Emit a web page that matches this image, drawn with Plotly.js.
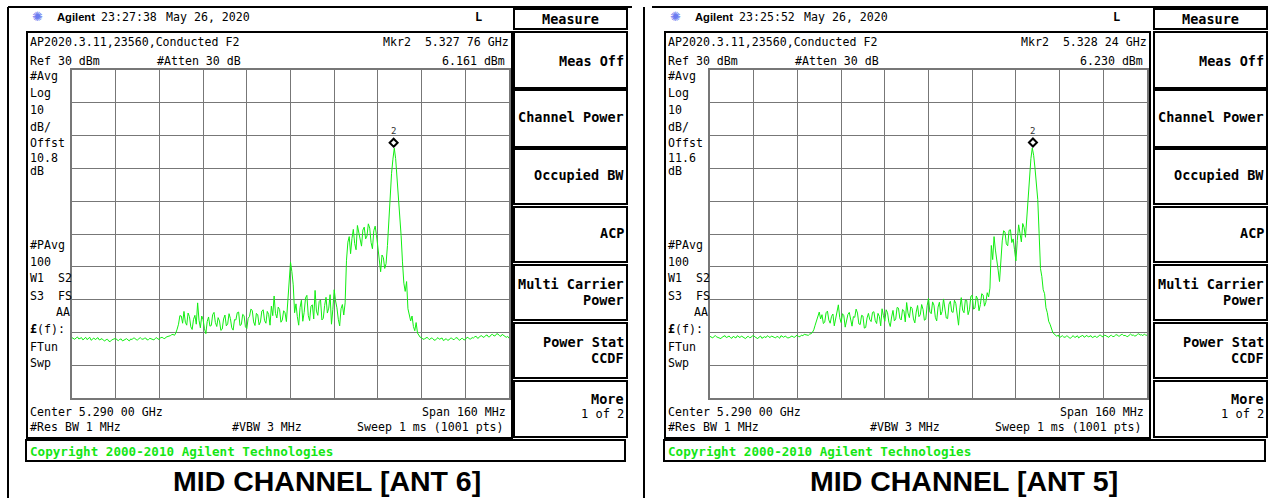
<!DOCTYPE html>
<html><head><meta charset="utf-8">
<script src="https://cdn.plot.ly/plotly-3.0.1.min.js"></script>
<style>html,body{margin:0;padding:0;background:#fff}#chart{width:1271px;height:498px}</style>
</head><body><div id="chart"></div>
<script>
// ---- sweep settings (from the analyzer annotations) ----
const centerGHz = 5.290;
const spanGHz = 0.160;
const refLevelDbm = 30;
const dbPerDiv = 10;
const stepGHz = 0.0005;

// ---- trace levels (dBm), one value per 0.5 MHz from 5.210 to 5.370 GHz ----
const ant6Level = [
  -51.6,-51.9,-52.1,-51.7,-51.4,-52.0,-51.9,-51.6,-52.3,-51.8,-51.5,-52.2,-51.8,-51.5,-52.4,-51.9,-51.7,-52.2,-52.0,-51.6,
  -52.3,-52.0,-51.9,-52.4,-52.6,-52.2,-52.1,-52.7,-52.8,-52.3,-52.2,-51.9,-51.8,-52.3,-52.5,-52.1,-52.0,-52.6,-52.4,-52.1,
  -51.9,-52.3,-52.6,-52.0,-52.2,-51.7,-51.8,-52.2,-52.3,-51.9,-51.6,-52.0,-52.1,-51.8,-51.7,-52.3,-52.2,-51.8,-51.9,-52.2,
  -52.3,-51.8,-51.6,-52.1,-52.0,-51.6,-51.5,-51.8,-51.9,-51.4,-51.3,-51.1,-51.0,-50.7,-50.6,-50.9,-50.2,-49.0,-47.5,-44.9,
  -45.0,-47.2,-43.6,-46.9,-47.8,-44.1,-45.2,-48.3,-49.1,-46.0,-44.8,-47.5,-41.0,-46.3,-48.6,-45.0,-46.1,-48.9,-50.4,-46.7,
  -45.3,-48.1,-47.9,-44.6,-43.9,-47.0,-48.2,-45.5,-46.5,-49.4,-49.0,-45.9,-44.7,-48.0,-47.4,-44.3,-45.8,-48.6,-49.3,-46.1,
  -46.2,-44.0,-43.8,-47.9,-47.6,-44.5,-44.9,-48.3,-48.8,-45.7,-45.1,-42.9,-43.3,-46.8,-47.9,-44.2,-44.6,-47.7,-46.8,-43.5,
  -43.1,-46.4,-47.2,-43.6,-44.5,-47.8,-42.0,-44.9,-38.9,-44.2,-45.6,-42.3,-43.0,-46.9,-46.2,-43.4,-44.0,-46.7,-40.2,-34.0,
  -28.6,-31.5,-35.5,-44.0,-41.3,-45.2,-47.8,-42.4,-40.2,-46.6,-43.9,-39.5,-38.7,-44.8,-46.4,-42.0,-41.6,-45.9,-37.2,-43.5,
  -44.8,-40.6,-40.1,-46.2,-45.7,-41.8,-39.3,-44.1,-42.6,-38.5,-47.5,-43.0,-37.0,-40.4,-42.5,-46.0,-48.0,-42.8,-41.5,-44.7,
  -41.0,-28.0,-22.5,-20.8,-26.0,-21.4,-18.6,-22.9,-24.8,-17.4,-19.5,-22.0,-23.7,-18.8,-17.9,-21.5,-20.6,-16.9,-18.2,-22.6,
  -24.5,-19.0,-17.6,-20.4,-23.8,-28.6,-31.5,-26.4,-27.2,-30.5,-29.0,-23.5,-15.0,-7.5,-1.5,2.8,6.16,3.0,-2.5,-7.0,
  -12.5,-20.5,-28.5,-35.0,-37.5,-34.5,-42.8,-44.5,-46.5,-45.0,-48.2,-49.5,-47.0,-50.2,-50.8,-51.5,-51.6,-52.1,-52.0,-51.7,
  -51.5,-51.9,-52.2,-51.7,-51.8,-52.3,-52.4,-51.9,-51.6,-52.1,-52.0,-51.7,-52.5,-52.1,-51.9,-52.4,-52.3,-51.8,-51.7,-52.2,
  -52.1,-51.7,-51.6,-52.2,-52.4,-51.9,-51.8,-52.3,-52.2,-51.6,-51.5,-52.0,-52.0,-51.6,-51.7,-51.3,-51.2,-51.8,-51.6,-51.1,
  -51.0,-51.5,-51.4,-50.9,-50.8,-51.4,-51.3,-50.7,-50.6,-51.1,-51.0,-50.4,-50.5,-51.0,-51.2,-50.6,-50.9,-51.4,-51.5,-51.2,
  -51.8
];
const ant5Level = [
  -51.2,-51.5,-51.7,-51.2,-51.0,-51.4,-51.5,-51.8,-51.9,-51.4,-51.3,-51.0,-51.6,-51.3,-51.1,-51.6,-51.8,-51.2,-51.4,-51.7,
  -51.0,-51.3,-51.6,-51.1,-51.3,-51.7,-51.9,-51.4,-51.2,-51.6,-51.5,-51.1,-51.0,-51.4,-51.7,-51.9,-51.4,-51.1,-51.8,-51.5,
  -51.3,-51.6,-51.0,-51.3,-51.6,-51.1,-51.2,-51.5,-51.7,-51.2,-51.4,-51.8,-51.0,-51.3,-51.5,-51.1,-51.3,-51.7,-51.6,-51.2,
  -51.1,-51.4,-51.5,-51.0,-50.9,-51.3,-51.3,-50.8,-51.0,-50.6,-50.7,-51.0,-50.9,-50.5,-50.4,-50.0,-49.2,-47.8,-46.5,-44.6,
  -43.8,-45.9,-44.6,-47.3,-46.9,-44.0,-43.5,-46.2,-47.2,-45.1,-44.4,-48.0,-45.8,-43.2,-41.6,-45.5,-47.0,-44.3,-44.9,-48.4,
  -46.3,-44.5,-43.9,-46.8,-48.1,-45.2,-45.4,-42.9,-44.1,-47.4,-47.6,-44.8,-45.0,-48.7,-48.5,-45.6,-44.2,-46.1,-46.7,-43.9,
  -43.7,-46.4,-47.3,-44.2,-45.1,-48.0,-42.8,-44.9,-46.6,-43.1,-44.0,-46.9,-48.2,-45.3,-43.3,-46.5,-45.9,-42.4,-42.6,-45.7,
  -46.2,-43.0,-43.4,-46.8,-40.9,-44.1,-45.5,-42.2,-42.7,-45.9,-47.1,-43.8,-41.8,-45.2,-44.6,-41.5,-43.0,-46.3,-46.0,-41.9,
  -39.6,-43.8,-44.3,-40.7,-41.7,-45.4,-46.5,-42.3,-40.8,-44.7,-43.6,-39.8,-42.1,-45.6,-45.8,-41.4,-40.5,-43.7,-43.9,-40.2,
  -41.2,-45.0,-47.8,-42.5,-39.4,-43.2,-44.0,-40.1,-40.3,-44.6,-43.1,-39.0,-38.7,-42.9,-42.6,-38.9,-39.9,-43.4,-41.5,-38.2,
  -38.6,-42.0,-40.8,-37.9,-39.2,-36.5,-23.5,-27.8,-20.8,-24.9,-27.4,-31.0,-34.5,-26.0,-22.1,-19.0,-19.4,-23.0,-23.6,-18.9,
  -18.7,-22.6,-21.5,-24.8,-28.2,-22.0,-17.2,-19.8,-22.4,-16.8,-18.0,-21.0,-15.5,-8.0,-1.5,3.0,6.23,4.0,0.0,-4.0,
  -9.5,-19.8,-30.5,-33.0,-37.0,-38.2,-42.5,-44.0,-46.6,-47.5,-48.8,-50.0,-50.5,-51.0,-51.2,-50.8,-51.6,-51.3,-51.0,-51.4,
  -51.5,-51.1,-51.2,-51.6,-51.8,-51.3,-51.0,-51.5,-51.4,-51.0,-51.7,-51.3,-51.2,-50.9,-51.5,-51.2,-50.9,-51.4,-51.3,-51.0,
  -51.6,-51.2,-51.1,-51.5,-51.4,-50.9,-50.8,-51.3,-51.3,-50.8,-51.0,-51.4,-51.5,-51.0,-50.9,-51.3,-51.2,-50.8,-50.7,-51.1,
  -51.1,-50.7,-50.6,-51.0,-50.9,-51.2,-51.3,-50.8,-50.5,-50.9,-50.8,-51.1,-51.0,-50.6,-50.4,-50.8,-50.7,-51.0,-50.5,-50.8,
  -50.9
];

// ---- markers ----
const markerFreqGHz = [5.32776, 5.32824];
const markerLevelDbm = [6.161, 6.230];
const markerNames = ['2', '2'];

// ---- texts ----
const panelTitles = ['MID CHANNEL [ANT 6]', 'MID CHANNEL [ANT 5]'];
const timeStamps = ['23:27:38', '23:25:52'];
const dateStamps = ['May 26, 2020', 'May 26, 2020'];
const markerFreqLabels = ['Mkr2\u00a0\u00a05.327 76 GHz', 'Mkr2\u00a0\u00a05.328 24 GHz'];
const markerLevelLabels = ['6.161 dBm', '6.230 dBm'];
const offsetLabels = ['10.8', '11.6'];
const headerLabel = 'AP2020.3.11,23560,Conducted F2';
const softkeyLabels = [['Meas Off'], ['Channel Power'], ['Occupied BW'], ['ACP'], ['Multi Carrier', 'Power'], ['Power Stat', 'CCDF']];

// ---- layout helpers (pixel geometry) ----
const W = 1271, H = 498;
const MONO = 'DejaVu Sans Mono, monospace';
const SANS = 'Liberation Sans, Arial, sans-serif';
const X = p => p / W, Y = p => 1 - p / H;
const anns = [], shapes = [];
function txt(x, y, t, o) {
  o = o || {};
  anns.push({xref: 'paper', yref: 'paper', x: X(x), y: Y(y), text: t, showarrow: false,
    xanchor: o.xa || 'left', yanchor: 'middle', align: o.xa === 'right' ? 'right' : 'left',
    borderpad: 0, font: {family: o.f || MONO, size: o.s || 11.6, color: o.c || '#000'}});
}
function rect(x0, y0, x1, y1, w) {
  shapes.push({type: 'rect', xref: 'paper', yref: 'paper', x0: X(x0), x1: X(x1), y0: Y(y0), y1: Y(y1),
    line: {color: '#000', width: w || 2}, fillcolor: 'rgba(0,0,0,0)'});
}
function line(x0, y0, x1, y1, w) {
  shapes.push({type: 'line', xref: 'paper', yref: 'paper', x0: X(x0), x1: X(x1), y0: Y(y0), y1: Y(y1),
    line: {color: '#000', width: w || 2}});
}

// page frame
line(8, 7, 8, 498, 2);
line(644, 7, 644, 498, 2);
line(8, 7, 632, 7, 2);
line(652, 7, 1268, 7, 2);

const startGHz = centerGHz - spanGHz / 2;
const stopGHz = centerGHz + spanGHz / 2;
const bottomDbm = refLevelDbm - 10 * dbPerDiv;
const freqs = lv => lv.map((_, i) => +(startGHz + i * stepGHz).toFixed(5));

const traces = [];
const levels = [ant6Level, ant5Level];
const gridX = [[72, 509], [710, 1147]];

function panel(i) {
  const dx = i === 0 ? 0 : 638, kx = i === 0 ? 0 : 640;
  const ax = i === 0 ? '' : '2';
  // header
  txt(31 + dx, 17, '✺', {f: 'DejaVu Sans', s: 13, c: '#6b7bf0'});
  txt(56 + dx, 17, '<b>Agilent</b>', {f: SANS, s: 11.2});
  txt(100 + dx, 17, timeStamps[i]);
  txt(165 + dx, 17, dateStamps[i]);
  txt(483 + dx, 17, '<b>L</b>', {xa: 'right', s: 12});
  // screen
  rect(27 + dx, 32, 512 + dx, 438, 2);
  txt(29 + dx, 42, headerLabel);
  txt(510 + dx, 42, markerFreqLabels[i], {xa: 'right'});
  txt(29 + dx, 61, 'Ref 30 dBm');
  txt(156 + dx, 61, '#Atten 30 dB');
  txt(506 + dx, 61, markerLevelLabels[i], {xa: 'right'});
  const leftCol = [['#Avg', 76], ['Log', 93], ['10', 110], ['dB/', 127], ['Offst', 143], [offsetLabels[i], 158], ['dB', 171],
    ['#PAvg', 245], ['100', 262], ['W1\u00a0\u00a0S2', 278], ['S3\u00a0\u00a0FS', 296], ['<b>£</b>(f):', 329], ['FTun', 347], ['Swp', 363]];
  leftCol.forEach(([t, y]) => txt(29 + dx, y, t));
  txt(71 + dx, 312, 'AA', {xa: 'right'});
  txt(29 + dx, 412, 'Center 5.290 00 GHz');
  txt(507 + dx, 412, 'Span 160 MHz', {xa: 'right'});
  txt(29 + dx, 427, '#Res BW 1 MHz');
  txt(231 + dx, 427, '#VBW 3 MHz');
  txt(505 + dx, 427, 'Sweep 1 ms (1001 pts)', {xa: 'right'});
  // copyright bar
  rect(26 + dx, 440, 625 + kx, 461, 2);
  txt(29 + dx, 451, '<b>Copyright 2000-2010 Agilent Technologies</b>', {c: '#14e614', s: 12.6});
  // softkeys
  rect(514 + kx, 9, 627 + kx, 29, 2);
  txt(570 + kx, 19, '<b>Measure</b>', {xa: 'center', s: 13.5});
  const keyBoxes = [[32, 88], [90, 147], [149, 204], [207, 262], [265, 320], [323, 378], [381, 437]];
  keyBoxes.forEach(([a, b]) => rect(514 + kx, a, 627 + kx, b, 2));
  const keyY = [[61], [117], [175], [233], [284, 300], [342, 358]];
  softkeyLabels.forEach((lbls, k) => lbls.forEach((t, j) => txt(625 + kx, keyY[k][j], '<b>' + t + '</b>', {xa: 'right', s: 13.5})));
  txt(625 + kx, 399, '<b>More</b>', {xa: 'right', s: 13.5});
  txt(625 + kx, 414, '1 of 2', {xa: 'right', s: 12});
  // caption
  txt((i === 0 ? 327 : 964), 481, '<b>' + panelTitles[i] + '</b>', {xa: 'center', f: SANS, s: 28.5});

  // trace
  traces.push({type: 'scatter', mode: 'lines', x: freqs(levels[i]), y: levels[i], xaxis: 'x' + ax, yaxis: 'y' + ax,
    line: {color: '#12ee12', width: 1}, hoverinfo: 'skip', showlegend: false});
  // marker diamond + number
  shapes.push({type: 'path', xref: 'x' + ax, yref: 'y' + ax, xsizemode: 'pixel', ysizemode: 'pixel',
    xanchor: markerFreqGHz[i], yanchor: markerLevelDbm[i], path: 'M0,1.5 L4,5.5 L0,9.5 L-4,5.5 Z',
    line: {color: '#000', width: 2}, fillcolor: 'rgba(255,255,255,0)'});
  anns.push({xref: 'x' + ax, yref: 'y' + ax, x: markerFreqGHz[i], y: markerLevelDbm[i], text: markerNames[i],
    showarrow: false, yshift: 17, font: {family: MONO, size: 9, color: '#333'}});
}
panel(0); panel(1);

function xAxis(px) {
  return {domain: [X(px[0]), X(px[1])], range: [startGHz, stopGHz], tick0: startGHz, dtick: spanGHz / 10,
    showgrid: true, gridcolor: '#777', gridwidth: 1, zeroline: false, showticklabels: false, ticks: '',
    showline: true, mirror: true, linecolor: '#777', linewidth: 2, fixedrange: true};
}
function yAxis() {
  return {domain: [Y(398), Y(70)], range: [bottomDbm, refLevelDbm], tick0: bottomDbm, dtick: dbPerDiv,
    showgrid: true, gridcolor: '#777', gridwidth: 1, zeroline: false, showticklabels: false, ticks: '',
    showline: true, mirror: true, linecolor: '#777', linewidth: 2, fixedrange: true};
}
const layout = {
  width: W, height: H, autosize: false, margin: {l: 0, r: 0, t: 0, b: 0, pad: 0},
  paper_bgcolor: '#fff', plot_bgcolor: '#fff', showlegend: false,
  xaxis: Object.assign(xAxis(gridX[0]), {anchor: 'y'}),
  yaxis: Object.assign(yAxis(), {anchor: 'x'}),
  xaxis2: Object.assign(xAxis(gridX[1]), {anchor: 'y2'}),
  yaxis2: Object.assign(yAxis(), {anchor: 'x2'}),
  shapes: shapes, annotations: anns
};
Plotly.newPlot('chart', traces, layout, {staticPlot: true, displayModeBar: false});
</script>
</body></html>
